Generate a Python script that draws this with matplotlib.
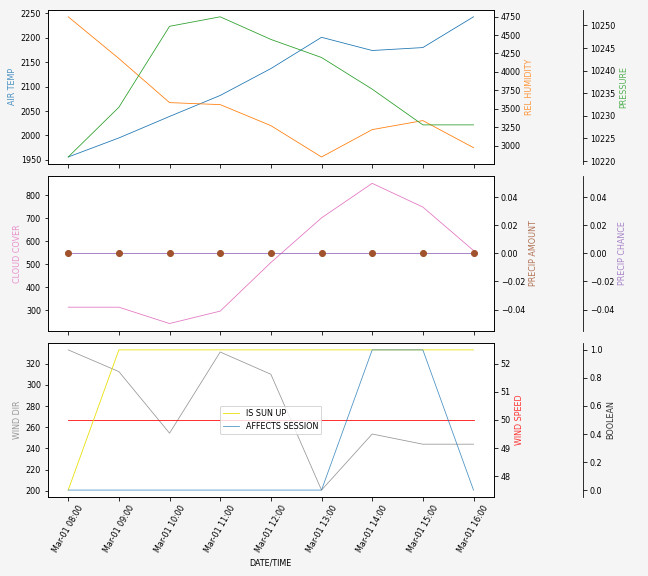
import matplotlib
matplotlib.use("Agg")
import matplotlib.pyplot as plt
import matplotlib.dates as mdates
import pandas as pd

times = pd.date_range("2024-03-01 08:00", periods=9, freq="h")
air_temp = [1956, 1995, 2039, 2082, 2137, 2201, 2174, 2180, 2243]
rel_humidity = [4746, 4182, 3586, 3559, 3275, 2851, 3221, 3343, 2977]
pressure = [10220.9, 10231.9, 10249.8, 10251.9, 10246.9, 10242.9, 10235.9, 10228.0, 10228.0]
cloud_cover = [313, 313, 242, 296, 507, 701, 851, 748, 559]
precip_amount = [0, 0, 0, 0, 0, 0, 0, 0, 0]
precip_chance = [0, 0, 0, 0, 0, 0, 0, 0, 0]
wind_dir = [333, 312.5, 254.4, 331, 310, 200.7, 253.6, 244, 244]
wind_speed = [50, 50, 50, 50, 50, 50, 50, 50, 50]
is_sun_up = [0, 1, 1, 1, 1, 1, 1, 1, 1]
affects_session = [0, 0, 0, 0, 0, 0, 1, 1, 0]

bg = "#f5f5f5"
fig, axes = plt.subplots(3, 1, figsize=(9, 8), dpi=72, sharex=True, facecolor=bg)
fig.subplots_adjust(left=0.074, right=0.762, top=0.983, bottom=0.137, hspace=0.08)
lw = 0.8
off = 1.2
lfs = 8

# Top panel
ax = axes[0]
ax.plot(times, air_temp, color="tab:blue", lw=lw)
ax.set_ylabel("AIR TEMP", color="tab:blue", alpha=0.8, fontsize=lfs)
t1 = ax.twinx()
t1.plot(times, rel_humidity, color="tab:orange", lw=lw)
t1.set_ylabel("REL HUMIDITY", color="tab:orange", alpha=0.8, fontsize=lfs)
t2 = ax.twinx()
t2.spines["right"].set_position(("axes", off))
t2.plot(times, pressure, color="tab:green", lw=lw)
t2.set_ylabel("PRESSURE", color="tab:green", alpha=0.8, fontsize=lfs)

# Middle panel
ax = axes[1]
ax.plot(times, cloud_cover, color="tab:pink", lw=lw)
ax.set_ylabel("CLOUD COVER", color="tab:pink", alpha=0.8, fontsize=lfs)
m2 = ax.twinx()
m2.spines["right"].set_position(("axes", off))
m2.plot(times, precip_chance, color="tab:purple", lw=lw)
m2.set_ylabel("PRECIP CHANCE", color="tab:purple", alpha=0.8, fontsize=lfs)
m1 = ax.twinx()
m1.plot(times, precip_amount, color="sienna", lw=0, marker="o", markersize=6)
m1.set_ylabel("PRECIP AMOUNT", color="sienna", alpha=0.8, fontsize=lfs)

# Bottom panel
ax = axes[2]
ax.plot(times, wind_dir, color="gray", lw=lw, alpha=0.8)
ax.set_ylabel("WIND DIR", color="gray", alpha=0.8, fontsize=lfs)
b1 = ax.twinx()
b1.plot(times, wind_speed, color="red", lw=lw)
b1.set_ylabel("WIND SPEED", color="red", alpha=0.8, fontsize=lfs)
b2 = ax.twinx()
b2.spines["right"].set_position(("axes", off))
b2.plot(times, is_sun_up, color="#e8e000", lw=lw, label="IS SUN UP")
b2.plot(times, affects_session, color="tab:blue", lw=lw, label="AFFECTS SESSION", alpha=0.8)
b2.set_ylabel("BOOLEAN", color="black", alpha=0.8, fontsize=lfs)
b2.legend(loc="center", fontsize=8)

for a in list(axes) + [t1, t2, m1, m2, b1, b2]:
    a.tick_params(labelsize=8)
for a in [t2, m2, b2]:
    a.set_frame_on(True)
    a.patch.set_visible(False)
    for s in ["top", "bottom", "left"]:
        a.spines[s].set_visible(False)

axes[2].xaxis.set_major_formatter(mdates.DateFormatter("%b-%d %H:%M"))
axes[2].set_xticks(times)
plt.setp(axes[2].get_xticklabels(), rotation=60)
axes[2].set_xlabel("DATE/TIME", fontsize=lfs)

fig.savefig("out.png", facecolor=bg)
